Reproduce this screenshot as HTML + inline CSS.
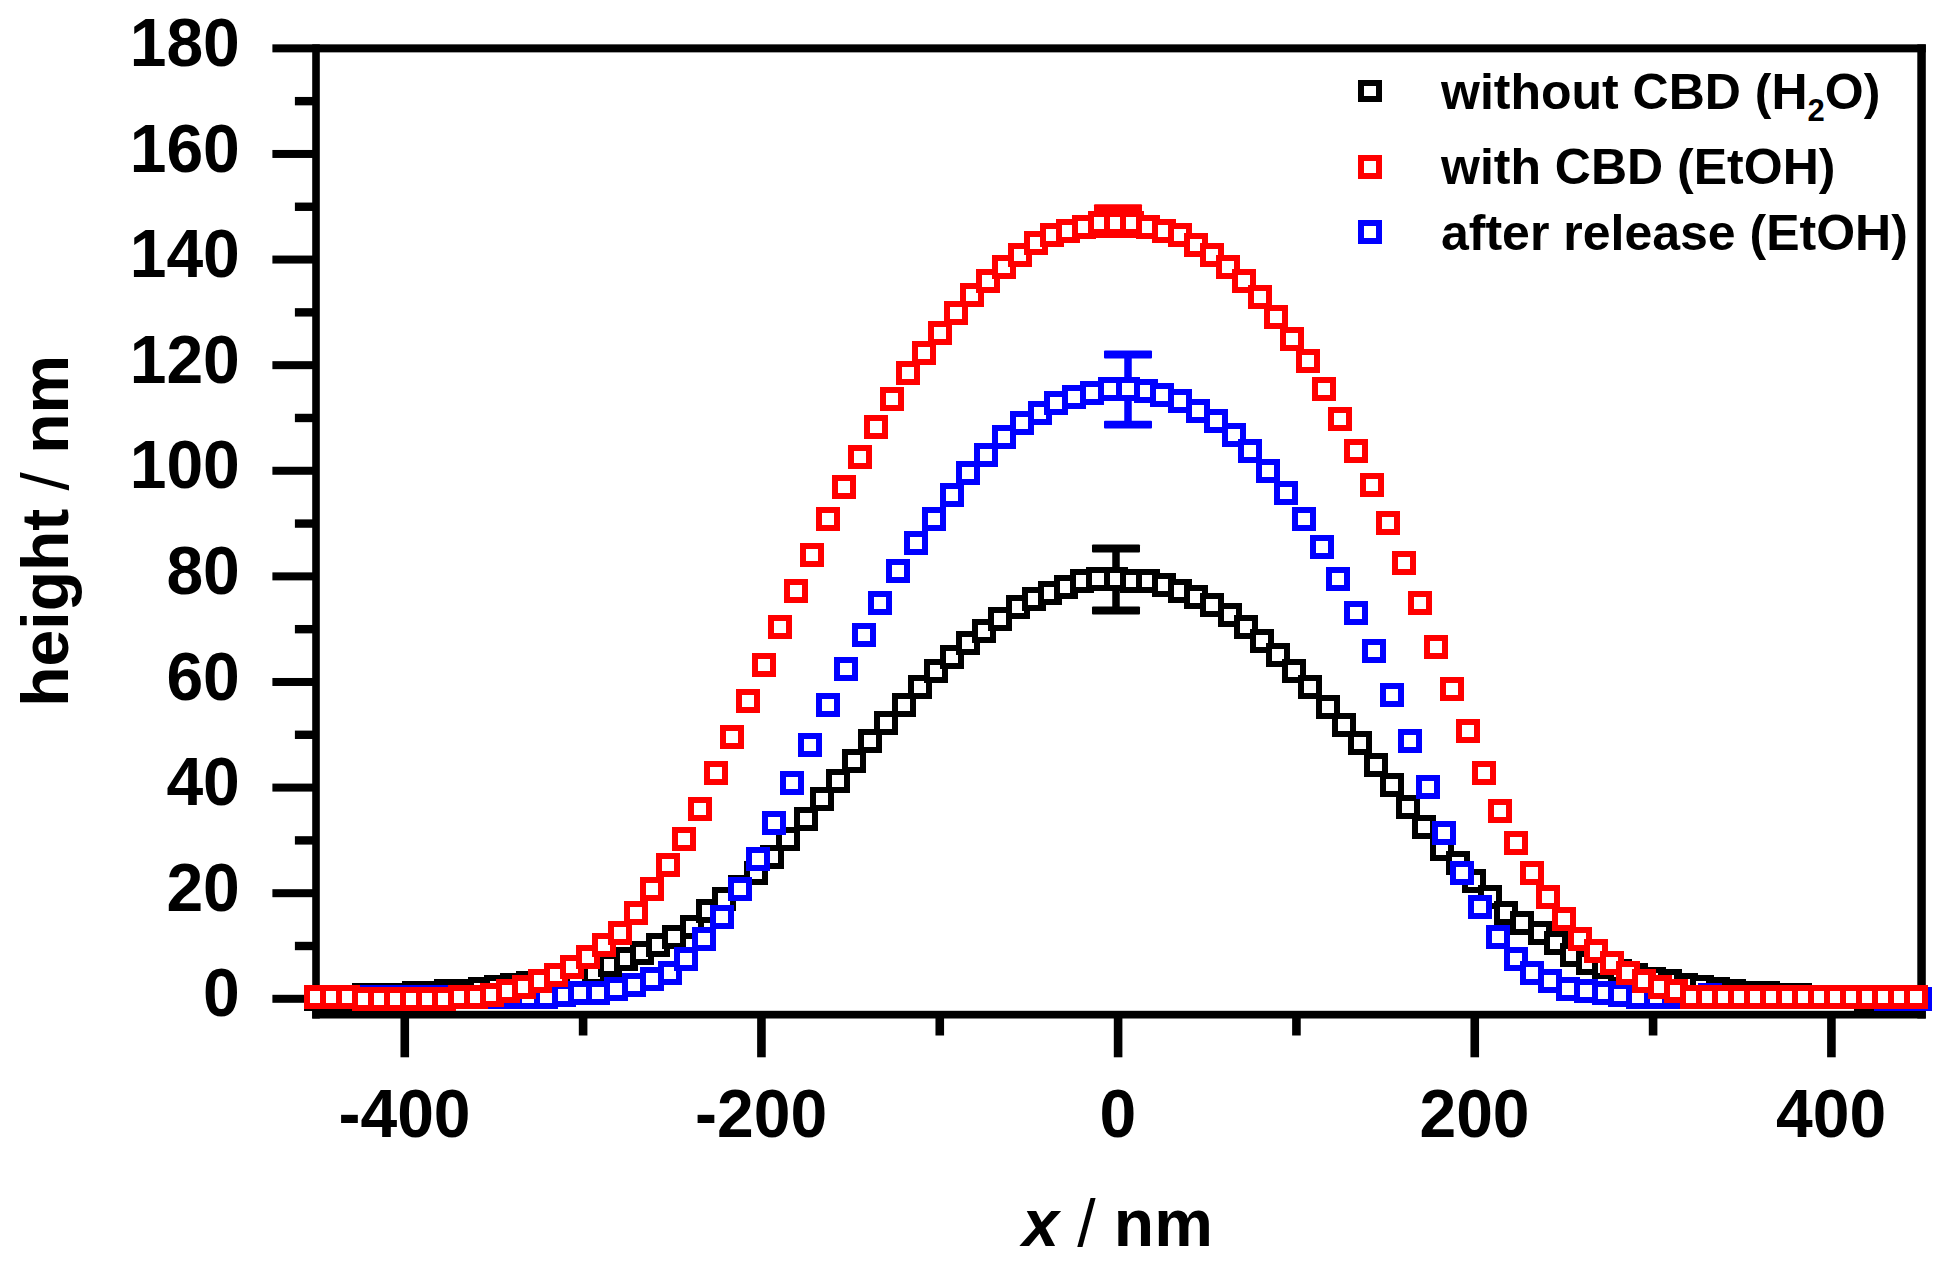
<!DOCTYPE html>
<html><head><meta charset="utf-8"><title>height profile</title>
<style>html,body{margin:0;padding:0;background:#fff;overflow:hidden}svg{display:block}text{font-family:"Liberation Sans",Arial,sans-serif;font-weight:bold;fill:#000}</style></head><body>
<svg width="1950" height="1266" viewBox="0 0 1950 1266">
<rect width="1950" height="1266" fill="#fff"/>
<g id="frame">
<rect x="272.40" y="44.35" width="1653.40" height="8.01" fill="#000"/>
<rect x="312.20" y="44.35" width="7.60" height="974.15" fill="#000"/>
<rect x="312.20" y="1010.80" width="1613.60" height="7.70" fill="#000"/>
<rect x="1917.30" y="44.35" width="8.50" height="974.15" fill="#000"/>
<rect x="272.40" y="994.80" width="40.80" height="8.00" fill="#000"/>
<rect x="294.90" y="941.80" width="18.30" height="8.40" fill="#000"/>
<rect x="272.40" y="889.19" width="40.80" height="8.00" fill="#000"/>
<rect x="294.90" y="836.19" width="18.30" height="8.40" fill="#000"/>
<rect x="272.40" y="783.59" width="40.80" height="8.00" fill="#000"/>
<rect x="294.90" y="730.59" width="18.30" height="8.40" fill="#000"/>
<rect x="272.40" y="677.98" width="40.80" height="8.00" fill="#000"/>
<rect x="294.90" y="624.98" width="18.30" height="8.40" fill="#000"/>
<rect x="272.40" y="572.38" width="40.80" height="8.00" fill="#000"/>
<rect x="294.90" y="519.37" width="18.30" height="8.40" fill="#000"/>
<rect x="272.40" y="466.77" width="40.80" height="8.00" fill="#000"/>
<rect x="294.90" y="413.77" width="18.30" height="8.40" fill="#000"/>
<rect x="272.40" y="361.17" width="40.80" height="8.00" fill="#000"/>
<rect x="294.90" y="308.16" width="18.30" height="8.40" fill="#000"/>
<rect x="272.40" y="255.56" width="40.80" height="8.00" fill="#000"/>
<rect x="294.90" y="202.56" width="18.30" height="8.40" fill="#000"/>
<rect x="272.40" y="149.96" width="40.80" height="8.00" fill="#000"/>
<rect x="294.90" y="96.95" width="18.30" height="8.40" fill="#000"/>
<rect x="400.48" y="1017.50" width="8.60" height="39.80" fill="#000"/>
<rect x="578.81" y="1017.50" width="8.60" height="18.00" fill="#000"/>
<rect x="757.14" y="1017.50" width="8.60" height="39.80" fill="#000"/>
<rect x="935.47" y="1017.50" width="8.60" height="18.00" fill="#000"/>
<rect x="1113.80" y="1017.50" width="8.60" height="39.80" fill="#000"/>
<rect x="1292.13" y="1017.50" width="8.60" height="18.00" fill="#000"/>
<rect x="1470.46" y="1017.50" width="8.60" height="39.80" fill="#000"/>
<rect x="1648.79" y="1017.50" width="8.60" height="18.00" fill="#000"/>
<rect x="1827.12" y="1017.50" width="8.60" height="39.80" fill="#000"/>
</g>
<g id="ylabels" font-size="66" text-anchor="end">
<text transform="translate(239.8,1016.4) scale(1,1.04)">0</text>
<text transform="translate(239.8,910.8) scale(1,1.04)">20</text>
<text transform="translate(239.8,805.2) scale(1,1.04)">40</text>
<text transform="translate(239.8,699.6) scale(1,1.04)">60</text>
<text transform="translate(239.8,594.0) scale(1,1.04)">80</text>
<text transform="translate(239.8,488.4) scale(1,1.04)">100</text>
<text transform="translate(239.8,382.8) scale(1,1.04)">120</text>
<text transform="translate(239.8,277.2) scale(1,1.04)">140</text>
<text transform="translate(239.8,171.6) scale(1,1.04)">160</text>
<text transform="translate(239.8,65.9) scale(1,1.04)">180</text>
</g>
<g id="xlabels" font-size="66" text-anchor="middle">
<text transform="translate(404.5,1136.5) scale(1,1.04)">-400</text>
<text transform="translate(761.1,1136.5) scale(1,1.04)">-200</text>
<text transform="translate(1117.8,1136.5) scale(1,1.04)">0</text>
<text transform="translate(1474.5,1136.5) scale(1,1.04)">200</text>
<text transform="translate(1831.1,1136.5) scale(1,1.04)">400</text>
</g>
<text x="1117.5" y="1246.2" font-size="66" text-anchor="middle"><tspan font-style="italic">x</tspan> <tspan font-weight="normal">/</tspan> nm</text>
<text transform="translate(68.3,530.7) rotate(-90)" font-size="66" text-anchor="middle">height <tspan font-weight="normal">/</tspan> nm</text>
<g id="data">
<g fill="#000">
<rect x="1112.25" y="548.50" width="7.5" height="19.50"/>
<rect x="1112.25" y="590.00" width="7.5" height="20.50"/>
<rect x="1092.00" y="544.60" width="48" height="7.8" rx="1"/>
<rect x="1092.00" y="606.60" width="48" height="7.8" rx="1"/>
</g>
<g fill="#fff" stroke="#000" stroke-width="6" shape-rendering="crispEdges">
<rect x="307" y="990" width="18" height="18"/><rect x="323" y="990" width="18" height="18"/><rect x="339" y="990" width="18" height="18"/><rect x="355" y="986" width="18" height="18"/><rect x="373" y="986" width="18" height="18"/><rect x="389" y="986" width="18" height="18"/><rect x="405" y="984" width="18" height="18"/><rect x="421" y="984" width="18" height="18"/><rect x="437" y="982" width="18" height="18"/><rect x="453" y="982" width="18" height="18"/><rect x="471" y="980" width="18" height="18"/><rect x="487" y="978" width="18" height="18"/><rect x="503" y="976" width="18" height="18"/><rect x="519" y="974" width="18" height="18"/><rect x="535" y="972" width="18" height="18"/><rect x="551" y="970" width="18" height="18"/><rect x="567" y="966" width="18" height="18"/><rect x="585" y="964" width="18" height="18"/><rect x="601" y="956" width="18" height="18"/><rect x="617" y="950" width="18" height="18"/><rect x="633" y="944" width="18" height="18"/><rect x="649" y="936" width="18" height="18"/><rect x="665" y="928" width="18" height="18"/><rect x="683" y="918" width="18" height="18"/><rect x="699" y="902" width="18" height="18"/><rect x="715" y="890" width="18" height="18"/><rect x="731" y="878" width="18" height="18"/><rect x="747" y="864" width="18" height="18"/><rect x="763" y="848" width="18" height="18"/><rect x="779" y="830" width="18" height="18"/><rect x="797" y="810" width="18" height="18"/><rect x="813" y="790" width="18" height="18"/><rect x="829" y="772" width="18" height="18"/><rect x="845" y="752" width="18" height="18"/><rect x="861" y="732" width="18" height="18"/><rect x="877" y="714" width="18" height="18"/><rect x="895" y="696" width="18" height="18"/><rect x="911" y="678" width="18" height="18"/><rect x="927" y="662" width="18" height="18"/><rect x="943" y="648" width="18" height="18"/><rect x="959" y="634" width="18" height="18"/><rect x="975" y="622" width="18" height="18"/><rect x="991" y="610" width="18" height="18"/><rect x="1009" y="598" width="18" height="18"/><rect x="1025" y="590" width="18" height="18"/><rect x="1041" y="584" width="18" height="18"/><rect x="1057" y="578" width="18" height="18"/><rect x="1073" y="572" width="18" height="18"/><rect x="1089" y="570" width="18" height="18"/><rect x="1107" y="570" width="18" height="18"/><rect x="1123" y="572" width="18" height="18"/><rect x="1139" y="572" width="18" height="18"/><rect x="1155" y="576" width="18" height="18"/><rect x="1171" y="582" width="18" height="18"/><rect x="1187" y="588" width="18" height="18"/><rect x="1203" y="596" width="18" height="18"/><rect x="1221" y="606" width="18" height="18"/><rect x="1237" y="618" width="18" height="18"/><rect x="1253" y="632" width="18" height="18"/><rect x="1269" y="646" width="18" height="18"/><rect x="1285" y="662" width="18" height="18"/><rect x="1301" y="678" width="18" height="18"/><rect x="1319" y="698" width="18" height="18"/><rect x="1335" y="716" width="18" height="18"/><rect x="1351" y="734" width="18" height="18"/><rect x="1367" y="756" width="18" height="18"/><rect x="1383" y="776" width="18" height="18"/><rect x="1399" y="798" width="18" height="18"/><rect x="1415" y="818" width="18" height="18"/><rect x="1433" y="840" width="18" height="18"/><rect x="1449" y="854" width="18" height="18"/><rect x="1465" y="872" width="18" height="18"/><rect x="1481" y="888" width="18" height="18"/><rect x="1497" y="904" width="18" height="18"/><rect x="1513" y="914" width="18" height="18"/><rect x="1531" y="924" width="18" height="18"/><rect x="1547" y="934" width="18" height="18"/><rect x="1563" y="946" width="18" height="18"/><rect x="1579" y="954" width="18" height="18"/><rect x="1595" y="958" width="18" height="18"/><rect x="1611" y="962" width="18" height="18"/><rect x="1627" y="966" width="18" height="18"/><rect x="1645" y="970" width="18" height="18"/><rect x="1661" y="972" width="18" height="18"/><rect x="1677" y="976" width="18" height="18"/><rect x="1693" y="978" width="18" height="18"/><rect x="1709" y="980" width="18" height="18"/><rect x="1725" y="982" width="18" height="18"/><rect x="1743" y="984" width="18" height="18"/><rect x="1759" y="984" width="18" height="18"/><rect x="1775" y="986" width="18" height="18"/><rect x="1791" y="986" width="18" height="18"/><rect x="1807" y="988" width="18" height="18"/><rect x="1823" y="988" width="18" height="18"/><rect x="1839" y="988" width="18" height="18"/><rect x="1857" y="990" width="18" height="18"/><rect x="1873" y="990" width="18" height="18"/><rect x="1889" y="990" width="18" height="18"/><rect x="1905" y="990" width="18" height="18"/>
</g>
<g fill="#0000ff">
<rect x="1124.25" y="354.50" width="7.5" height="23.50"/>
<rect x="1124.25" y="400.00" width="7.5" height="24.60"/>
<rect x="1104.00" y="350.60" width="48" height="7.8" rx="1"/>
<rect x="1104.00" y="420.70" width="48" height="7.8" rx="1"/>
</g>
<g fill="#fff" stroke="#0000ff" stroke-width="6" shape-rendering="crispEdges">
<rect x="307" y="988" width="18" height="18"/><rect x="325" y="988" width="18" height="18"/><rect x="343" y="988" width="18" height="18"/><rect x="361" y="988" width="18" height="18"/><rect x="379" y="988" width="18" height="18"/><rect x="395" y="988" width="18" height="18"/><rect x="413" y="988" width="18" height="18"/><rect x="431" y="988" width="18" height="18"/><rect x="449" y="988" width="18" height="18"/><rect x="467" y="988" width="18" height="18"/><rect x="483" y="988" width="18" height="18"/><rect x="501" y="988" width="18" height="18"/><rect x="519" y="988" width="18" height="18"/><rect x="537" y="988" width="18" height="18"/><rect x="555" y="986" width="18" height="18"/><rect x="571" y="984" width="18" height="18"/><rect x="589" y="984" width="18" height="18"/><rect x="607" y="980" width="18" height="18"/><rect x="625" y="976" width="18" height="18"/><rect x="643" y="970" width="18" height="18"/><rect x="661" y="964" width="18" height="18"/><rect x="677" y="950" width="18" height="18"/><rect x="695" y="930" width="18" height="18"/><rect x="713" y="908" width="18" height="18"/><rect x="731" y="880" width="18" height="18"/><rect x="749" y="850" width="18" height="18"/><rect x="765" y="814" width="18" height="18"/><rect x="783" y="774" width="18" height="18"/><rect x="801" y="736" width="18" height="18"/><rect x="819" y="696" width="18" height="18"/><rect x="837" y="660" width="18" height="18"/><rect x="855" y="626" width="18" height="18"/><rect x="871" y="594" width="18" height="18"/><rect x="889" y="562" width="18" height="18"/><rect x="907" y="534" width="18" height="18"/><rect x="925" y="510" width="18" height="18"/><rect x="943" y="486" width="18" height="18"/><rect x="959" y="464" width="18" height="18"/><rect x="977" y="446" width="18" height="18"/><rect x="995" y="428" width="18" height="18"/><rect x="1013" y="414" width="18" height="18"/><rect x="1031" y="404" width="18" height="18"/><rect x="1047" y="394" width="18" height="18"/><rect x="1065" y="388" width="18" height="18"/><rect x="1083" y="384" width="18" height="18"/><rect x="1101" y="380" width="18" height="18"/><rect x="1119" y="380" width="18" height="18"/><rect x="1137" y="382" width="18" height="18"/><rect x="1153" y="386" width="18" height="18"/><rect x="1171" y="392" width="18" height="18"/><rect x="1189" y="402" width="18" height="18"/><rect x="1207" y="412" width="18" height="18"/><rect x="1225" y="426" width="18" height="18"/><rect x="1241" y="442" width="18" height="18"/><rect x="1259" y="462" width="18" height="18"/><rect x="1277" y="484" width="18" height="18"/><rect x="1295" y="510" width="18" height="18"/><rect x="1313" y="538" width="18" height="18"/><rect x="1329" y="570" width="18" height="18"/><rect x="1347" y="604" width="18" height="18"/><rect x="1365" y="642" width="18" height="18"/><rect x="1383" y="686" width="18" height="18"/><rect x="1401" y="732" width="18" height="18"/><rect x="1419" y="778" width="18" height="18"/><rect x="1435" y="824" width="18" height="18"/><rect x="1453" y="864" width="18" height="18"/><rect x="1471" y="898" width="18" height="18"/><rect x="1489" y="928" width="18" height="18"/><rect x="1507" y="950" width="18" height="18"/><rect x="1523" y="964" width="18" height="18"/><rect x="1541" y="972" width="18" height="18"/><rect x="1559" y="980" width="18" height="18"/><rect x="1577" y="982" width="18" height="18"/><rect x="1595" y="984" width="18" height="18"/><rect x="1611" y="986" width="18" height="18"/><rect x="1629" y="988" width="18" height="18"/><rect x="1647" y="988" width="18" height="18"/><rect x="1665" y="988" width="18" height="18"/><rect x="1683" y="988" width="18" height="18"/><rect x="1701" y="986" width="18" height="18"/><rect x="1717" y="988" width="18" height="18"/><rect x="1735" y="988" width="18" height="18"/><rect x="1753" y="988" width="18" height="18"/><rect x="1771" y="988" width="18" height="18"/><rect x="1789" y="988" width="18" height="18"/><rect x="1805" y="988" width="18" height="18"/><rect x="1823" y="988" width="18" height="18"/><rect x="1841" y="988" width="18" height="18"/><rect x="1859" y="988" width="18" height="18"/><rect x="1877" y="990" width="18" height="18"/><rect x="1895" y="990" width="18" height="18"/><rect x="1911" y="990" width="18" height="18"/>
</g>
<g fill="#ff0000">
<rect x="1114.25" y="208.20" width="7.5" height="3.80"/>
<rect x="1114.25" y="234.00" width="7.5" height="0.20"/>
<rect x="1094.00" y="204.30" width="48" height="7.8" rx="1"/>
<rect x="1094.00" y="230.30" width="48" height="7.8" rx="1"/>
</g>
<g fill="#fff" stroke="#ff0000" stroke-width="6" shape-rendering="crispEdges">
<rect x="307" y="988" width="18" height="18"/><rect x="323" y="988" width="18" height="18"/><rect x="339" y="988" width="18" height="18"/><rect x="355" y="990" width="18" height="18"/><rect x="371" y="990" width="18" height="18"/><rect x="387" y="990" width="18" height="18"/><rect x="403" y="990" width="18" height="18"/><rect x="419" y="990" width="18" height="18"/><rect x="435" y="990" width="18" height="18"/><rect x="451" y="988" width="18" height="18"/><rect x="467" y="988" width="18" height="18"/><rect x="483" y="986" width="18" height="18"/><rect x="499" y="982" width="18" height="18"/><rect x="515" y="978" width="18" height="18"/><rect x="531" y="972" width="18" height="18"/><rect x="547" y="966" width="18" height="18"/><rect x="563" y="958" width="18" height="18"/><rect x="579" y="948" width="18" height="18"/><rect x="595" y="936" width="18" height="18"/><rect x="611" y="924" width="18" height="18"/><rect x="627" y="904" width="18" height="18"/><rect x="643" y="880" width="18" height="18"/><rect x="659" y="856" width="18" height="18"/><rect x="675" y="830" width="18" height="18"/><rect x="691" y="800" width="18" height="18"/><rect x="707" y="764" width="18" height="18"/><rect x="723" y="728" width="18" height="18"/><rect x="739" y="692" width="18" height="18"/><rect x="755" y="656" width="18" height="18"/><rect x="771" y="618" width="18" height="18"/><rect x="787" y="582" width="18" height="18"/><rect x="803" y="546" width="18" height="18"/><rect x="819" y="510" width="18" height="18"/><rect x="835" y="478" width="18" height="18"/><rect x="851" y="448" width="18" height="18"/><rect x="867" y="418" width="18" height="18"/><rect x="883" y="390" width="18" height="18"/><rect x="899" y="364" width="18" height="18"/><rect x="915" y="344" width="18" height="18"/><rect x="931" y="324" width="18" height="18"/><rect x="947" y="304" width="18" height="18"/><rect x="963" y="286" width="18" height="18"/><rect x="979" y="272" width="18" height="18"/><rect x="995" y="258" width="18" height="18"/><rect x="1011" y="246" width="18" height="18"/><rect x="1027" y="234" width="18" height="18"/><rect x="1043" y="226" width="18" height="18"/><rect x="1059" y="222" width="18" height="18"/><rect x="1075" y="218" width="18" height="18"/><rect x="1091" y="214" width="18" height="18"/><rect x="1107" y="214" width="18" height="18"/><rect x="1123" y="214" width="18" height="18"/><rect x="1139" y="218" width="18" height="18"/><rect x="1155" y="222" width="18" height="18"/><rect x="1171" y="226" width="18" height="18"/><rect x="1187" y="236" width="18" height="18"/><rect x="1203" y="246" width="18" height="18"/><rect x="1219" y="258" width="18" height="18"/><rect x="1235" y="272" width="18" height="18"/><rect x="1251" y="288" width="18" height="18"/><rect x="1267" y="308" width="18" height="18"/><rect x="1283" y="330" width="18" height="18"/><rect x="1299" y="352" width="18" height="18"/><rect x="1315" y="380" width="18" height="18"/><rect x="1331" y="410" width="18" height="18"/><rect x="1347" y="442" width="18" height="18"/><rect x="1363" y="476" width="18" height="18"/><rect x="1379" y="514" width="18" height="18"/><rect x="1395" y="554" width="18" height="18"/><rect x="1411" y="594" width="18" height="18"/><rect x="1427" y="638" width="18" height="18"/><rect x="1443" y="680" width="18" height="18"/><rect x="1459" y="722" width="18" height="18"/><rect x="1475" y="764" width="18" height="18"/><rect x="1491" y="802" width="18" height="18"/><rect x="1507" y="834" width="18" height="18"/><rect x="1523" y="864" width="18" height="18"/><rect x="1539" y="888" width="18" height="18"/><rect x="1555" y="910" width="18" height="18"/><rect x="1571" y="930" width="18" height="18"/><rect x="1587" y="942" width="18" height="18"/><rect x="1603" y="954" width="18" height="18"/><rect x="1619" y="964" width="18" height="18"/><rect x="1635" y="972" width="18" height="18"/><rect x="1651" y="978" width="18" height="18"/><rect x="1667" y="982" width="18" height="18"/><rect x="1683" y="988" width="18" height="18"/><rect x="1699" y="988" width="18" height="18"/><rect x="1715" y="988" width="18" height="18"/><rect x="1731" y="988" width="18" height="18"/><rect x="1747" y="988" width="18" height="18"/><rect x="1763" y="988" width="18" height="18"/><rect x="1779" y="988" width="18" height="18"/><rect x="1795" y="988" width="18" height="18"/><rect x="1811" y="988" width="18" height="18"/><rect x="1827" y="988" width="18" height="18"/><rect x="1843" y="988" width="18" height="18"/><rect x="1859" y="988" width="18" height="18"/><rect x="1875" y="988" width="18" height="18"/><rect x="1891" y="988" width="18" height="18"/><rect x="1907" y="988" width="18" height="18"/>
</g>
</g>
<g id="legend">
<rect x="1361" y="83" width="18" height="16" fill="#fff" stroke="#000" stroke-width="6" shape-rendering="crispEdges"/>
<rect x="1361" y="158" width="18" height="18" fill="#fff" stroke="#ff0000" stroke-width="6" shape-rendering="crispEdges"/>
<rect x="1361" y="223" width="18" height="18" fill="#fff" stroke="#0000ff" stroke-width="6" shape-rendering="crispEdges"/>
<text x="1441" y="108.6" font-size="50">without CBD (H<tspan font-size="31.0" dy="12">2</tspan><tspan dy="-12">O)</tspan></text>
<text x="1441" y="184.1" font-size="50">with CBD (EtOH)</text>
<text x="1441" y="249.8" font-size="50">after release (EtOH)</text>
</g>
</svg></body></html>
